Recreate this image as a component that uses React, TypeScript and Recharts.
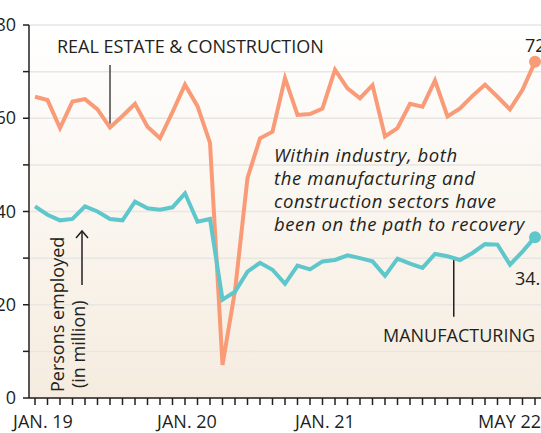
import React from "react";
import { LineChart, Line, XAxis, YAxis, CartesianGrid, ReferenceLine } from "recharts";

// persons employed, million, monthly Jan 2019 – May 2022
const realEstate = [
  64.6, 63.9, 57.9, 63.6, 64.1, 61.9, 58.0, 60.5, 63.1, 58.2, 55.7, 61.3,
  67.2, 62.6, 54.7, 7.1, 23.0, 47.2, 55.7, 57.1, 68.6, 60.7, 60.9, 62.1,
  70.4, 66.4, 64.3, 67.1, 56.1, 57.9, 63.1, 62.5, 68.1, 60.4, 62.1, 64.8,
  67.2, 64.6, 61.9, 66.1, 72.1,
];
const manufacturing = [
  41.1, 39.3, 38.1, 38.4, 41.1, 40.0, 38.4, 38.1, 42.1, 40.7, 40.4, 40.9,
  43.9, 37.8, 38.4, 21.1, 22.8, 27.1, 29.0, 27.5, 24.5, 28.4, 27.6, 29.3,
  29.6, 30.6, 30.0, 29.3, 26.2, 29.9, 28.8, 27.9, 30.9, 30.4, 29.6, 31.1,
  33.0, 32.9, 28.6, 31.4, 34.5,
];
const monthIndex = realEstate.map((_, i) => i);
const labelMonths = [0, 12, 24, 40];
const labelTexts = ["JAN. 19", "JAN. 20", "JAN. 21", "MAY 22"];
const yTicks = [0, 10, 20, 30, 40, 50, 60, 70, 80];
const yLabelTicks = [0, 20, 40, 60, 80];

const data = monthIndex.map((m) => ({ m, re: realEstate[m], mf: manufacturing[m] }));
const last = monthIndex.length - 1;

const INK = "#231f20";
const ORANGE = "#f99b77";
const TEAL = "#5ec7cc";
const FONT = "'Open Sans', sans-serif";

function XTick({ x, y, payload }: any) {
  const k = labelMonths.indexOf(payload.value);
  if (k < 0) return <g />;
  // nudge labels the way the original does
  const shift = [8, 2, -10, 6][k];
  const anchor = k === labelMonths.length - 1 ? "end" : "middle";
  return (
    <text x={x + shift} y={y + 23} textAnchor={anchor} fontSize={18} fill={INK} fontFamily={FONT}>
      {labelTexts[k]}
    </text>
  );
}

function YTick({ x, y, payload }: any) {
  if (!yLabelTicks.includes(payload.value)) return <g />;
  return (
    <text x={x} y={y} dy={6} textAnchor="end" fontSize={18} fill={INK} fontFamily={FONT}>
      {payload.value}
    </text>
  );
}

function endDot(color: string) {
  return (p: any) =>
    p.index === last ? <circle key={p.index} cx={p.cx} cy={p.cy} r={6} fill={color} /> : <g key={p.index} />;
}

function endLabel(dx: number, dy: number) {
  return (p: any) =>
    p.index === last ? (
      <text key="lbl" x={p.x + dx} y={p.y + dy} fontSize={18} fill={INK} fontFamily={FONT}>
        {p.value}
      </text>
    ) : (
      <g key={p.index} />
    );
}

export default function App() {
  return (
    <div style={{ position: "absolute", left: 0, top: 0, width: 541, height: 433, overflow: "hidden", background: "#fff" }}>
      <LineChart width={541} height={433} data={data} margin={{ top: 25, right: 0, bottom: 0, left: 0 }}>
        <defs>
          <linearGradient id="bg" x1="0" y1="0" x2="0" y2="1">
            <stop offset="0%" stopColor="#ffffff" />
            <stop offset="100%" stopColor="#f5ecdf" />
          </linearGradient>
        </defs>
        <CartesianGrid vertical={false} stroke="#e9e6e1" strokeWidth={1.5} fill="url(#bg)" />
        <XAxis
          dataKey="m"
          type="number"
          domain={[0, last]}
          ticks={monthIndex}
          interval={0}
          padding={{ left: 6, right: 6 }}
          height={35}
          tickSize={7}
          tickMargin={0}
          stroke={INK}
          strokeWidth={1.5}
          tick={<XTick />}
        />
        <YAxis
          domain={[0, 80]}
          ticks={yTicks}
          interval={0}
          width={29}
          tickSize={6}
          tickMargin={7}
          stroke={INK}
          strokeWidth={1.5}
          tick={<YTick />}
        />
        <ReferenceLine segment={[{ x: 6, y: 58.8 }, { x: 6, y: 71.4 }]} stroke="#444" strokeWidth={1.5} />
        <ReferenceLine segment={[{ x: 33.5, y: 17.4 }, { x: 33.5, y: 29.8 }]} stroke={INK} strokeWidth={1.5} />
        <Line
          dataKey="re"
          stroke={ORANGE}
          strokeWidth={4}
          strokeLinejoin="miter"
          dot={endDot(ORANGE)}
          label={endLabel(-10, -10)}
          isAnimationActive={false}
        />
        <Line
          dataKey="mf"
          stroke={TEAL}
          strokeWidth={4}
          strokeLinejoin="miter"
          dot={endDot(TEAL)}
          label={endLabel(-20, 48)}
          isAnimationActive={false}
        />
      </LineChart>
      <svg width={541} height={433} style={{ position: "absolute", left: 0, top: 0, pointerEvents: "none" }} fontFamily={FONT} fill={INK}>
        <text x={57} y={52.5} fontSize={18}>REAL ESTATE &amp; CONSTRUCTION</text>
        <text x={383} y={342} fontSize={18}>MANUFACTURING</text>
        <g fontSize={18.5} fontStyle="italic" letterSpacing={0.6}>
          <text x={274} y={161.5}>Within industry, both</text>
          <text x={274} y={184.5}>the manufacturing and</text>
          <text x={274} y={207.5}>construction sectors have</text>
          <text x={274} y={230.5}>been on the path to recovery</text>
        </g>
        <text transform="translate(63.5,392) rotate(-90)" fontSize={18}>Persons employed</text>
        <text transform="translate(85,388) rotate(-90)" fontSize={18}>(in million)</text>
        <line x1={82} y1={285} x2={82} y2={231} stroke={INK} strokeWidth={1.5} />
        <polyline points="76,238 82,231 88,238" fill="none" stroke={INK} strokeWidth={1.5} />
      </svg>
    </div>
  );
}
